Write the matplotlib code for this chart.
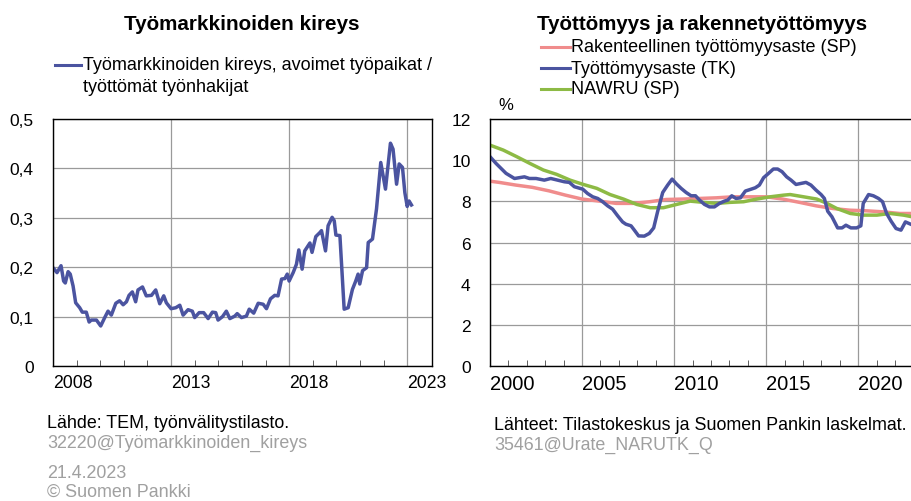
import matplotlib.pyplot as plt

plt.rcParams['font.family'] = ['Liberation Sans', 'DejaVu Sans']

# --- Työmarkkinoiden kireys (monthly) ---
kireys_t = [2008.00, 2008.17, 2008.34, 2008.45, 2008.52, 2008.64, 2008.73, 2008.85, 2008.96, 2009.13,
            2009.24, 2009.41, 2009.53, 2009.62, 2009.84, 2010.02, 2010.19, 2010.33, 2010.47, 2010.66,
            2010.82, 2010.97, 2011.11, 2011.22, 2011.36, 2011.50, 2011.60, 2011.79, 2011.95, 2012.17,
            2012.35, 2012.52, 2012.69, 2012.80, 2013.00, 2013.20, 2013.37, 2013.51, 2013.72, 2013.90,
            2014.00, 2014.19, 2014.38, 2014.57, 2014.75, 2014.89, 2014.99, 2015.18, 2015.34, 2015.49,
            2015.70, 2015.80, 2015.98, 2016.19, 2016.31, 2016.50, 2016.69, 2016.90, 2017.04, 2017.21,
            2017.39, 2017.53, 2017.68, 2017.82, 2017.92, 2018.00, 2018.17, 2018.31, 2018.41, 2018.55,
            2018.66, 2018.88, 2018.97, 2019.13, 2019.30, 2019.37, 2019.54, 2019.65, 2019.82, 2019.91,
            2019.98, 2020.15, 2020.33, 2020.50, 2020.68, 2020.82, 2020.92, 2020.99, 2021.11, 2021.28,
            2021.35, 2021.53, 2021.70, 2021.88, 2022.08, 2022.29, 2022.40, 2022.55, 2022.66, 2022.80,
            2022.90, 2023.00, 2023.08, 2023.18]
kireys = [0.199, 0.189, 0.203, 0.172, 0.168, 0.191, 0.186, 0.162, 0.128, 0.118,
          0.109, 0.109, 0.089, 0.093, 0.093, 0.081, 0.098, 0.111, 0.103, 0.127,
          0.132, 0.124, 0.130, 0.143, 0.150, 0.130, 0.154, 0.160, 0.142, 0.143,
          0.154, 0.126, 0.142, 0.128, 0.116, 0.118, 0.123, 0.103, 0.114, 0.111,
          0.098, 0.108, 0.108, 0.096, 0.109, 0.108, 0.093, 0.100, 0.111, 0.096,
          0.101, 0.106, 0.098, 0.101, 0.115, 0.107, 0.127, 0.125, 0.116, 0.136,
          0.143, 0.142, 0.176, 0.177, 0.186, 0.172, 0.189, 0.206, 0.235, 0.196,
          0.233, 0.249, 0.230, 0.262, 0.270, 0.274, 0.233, 0.284, 0.301, 0.294,
          0.265, 0.264, 0.115, 0.118, 0.155, 0.172, 0.186, 0.166, 0.193, 0.199,
          0.250, 0.257, 0.318, 0.412, 0.358, 0.451, 0.439, 0.368, 0.409, 0.402,
          0.351, 0.323, 0.334, 0.326]

# --- Työttömyysaste (TK) ---
tk_t = [2000.05, 2000.33, 2000.60, 2000.87, 2001.33, 2001.60, 2001.87, 2002.14, 2002.50, 2002.95,
        2003.30, 2003.67, 2004.04, 2004.31, 2004.58, 2005.04, 2005.30, 2005.58, 2005.85, 2006.12,
        2006.39, 2006.66, 2006.93, 2007.20, 2007.38, 2007.66, 2007.84, 2008.07, 2008.38, 2008.65,
        2008.89, 2009.10, 2009.38, 2009.65, 2009.89, 2010.10, 2010.38, 2010.65, 2010.92, 2011.16,
        2011.38, 2011.65, 2011.92, 2012.19, 2012.46, 2012.73, 2012.91, 2013.13, 2013.36, 2013.60,
        2013.87, 2014.18, 2014.41, 2014.63, 2014.86, 2015.13, 2015.39, 2015.62, 2015.86, 2016.11,
        2016.35, 2016.62, 2016.89, 2017.16, 2017.43, 2017.70, 2017.98, 2018.16, 2018.34, 2018.57,
        2018.88, 2019.12, 2019.33, 2019.60, 2019.91, 2020.14, 2020.27, 2020.56, 2020.82, 2021.10,
        2021.32, 2021.54, 2021.78, 2022.05, 2022.32, 2022.56, 2022.87]
tk = [10.12, 9.84, 9.60, 9.36, 9.11, 9.15, 9.19, 9.11, 9.11, 9.03,
      9.11, 9.03, 8.95, 8.92, 8.71, 8.59, 8.38, 8.22, 8.14, 7.98,
      7.78, 7.62, 7.30, 7.00, 6.89, 6.81, 6.60, 6.32, 6.31, 6.44,
      6.71, 7.49, 8.43, 8.79, 9.08, 8.87, 8.63, 8.43, 8.27, 8.27,
      8.06, 7.85, 7.73, 7.73, 7.90, 8.01, 8.06, 8.27, 8.14, 8.17,
      8.50, 8.59, 8.66, 8.79, 9.15, 9.36, 9.57, 9.57, 9.44, 9.19,
      9.03, 8.82, 8.87, 8.92, 8.79, 8.55, 8.33, 8.14, 7.52, 7.25,
      6.71, 6.71, 6.84, 6.71, 6.71, 6.81, 7.90, 8.33, 8.27, 8.14,
      7.98, 7.41, 7.04, 6.68, 6.60, 7.00, 6.88]

# --- Rakenteellinen työttömyysaste (SP) ---
rak_t = [2000.0, 2000.5, 2001.4, 2002.3, 2003.2, 2004.1, 2005.0, 2005.95, 2006.85, 2007.75,
         2008.66, 2009.56, 2010.47, 2011.38, 2012.28, 2013.19, 2014.09, 2015.0, 2015.9, 2016.81,
         2017.72, 2018.63, 2019.53, 2020.44, 2021.34, 2022.25, 2022.9]
rak = [8.98, 8.92, 8.79, 8.68, 8.51, 8.30, 8.11, 8.01, 7.90, 7.90,
       7.98, 8.09, 8.11, 8.14, 8.17, 8.22, 8.22, 8.22, 8.11, 7.95,
       7.78, 7.65, 7.57, 7.54, 7.49, 7.41, 7.41]

# --- NAWRU (SP) ---
nawru_t = [2000.0, 2000.72, 2001.45, 2002.17, 2002.9, 2003.62, 2004.35, 2005.07, 2005.8, 2006.52,
           2007.25, 2007.97, 2008.7, 2009.42, 2010.14, 2010.87, 2011.59, 2012.32, 2013.04, 2013.77,
           2014.49, 2015.22, 2015.94, 2016.3, 2017.03, 2017.75, 2018.3, 2018.84, 2019.57, 2020.29,
           2021.01, 2021.74, 2022.46, 2022.92]
nawru = [10.73, 10.49, 10.17, 9.84, 9.52, 9.31, 9.03, 8.82, 8.63, 8.33,
         8.11, 7.85, 7.69, 7.69, 7.85, 8.01, 7.95, 7.90, 7.95, 7.98,
         8.11, 8.22, 8.30, 8.33, 8.22, 8.11, 7.90, 7.65, 7.41, 7.33,
         7.33, 7.41, 7.33, 7.25]

left_xlabels = ['2008', '2013', '2018', '2023']
left_ylabels = ['0', '0,1', '0,2', '0,3', '0,4', '0,5']
right_xlabels = ['2000', '2005', '2010', '2015', '2020']
right_ylabels = ['0', '2', '4', '6', '8', '10', '12']

blue = '#4B54A0'
pink = '#F08C8C'
green = '#8DBA45'
gridc = '#9a9a9a'

W, H = 912, 502
fig = plt.figure(figsize=(W / 100, H / 100), dpi=100)


def px_axes(x0, y0, x1, y1):
    return fig.add_axes([x0 / W, 1 - y1 / H, (x1 - x0) / W, (y1 - y0) / H])


def style(ax, major, minor, xlabels, yticks, ylabels, xsize):
    ax.set_xticks(major)
    ax.set_xticklabels(xlabels, ha='left', fontsize=xsize)
    ax.set_xticks(minor, minor=True)
    ax.set_yticks(yticks)
    ax.set_yticklabels(ylabels, fontsize=12.5)
    ax.tick_params(axis='x', which='major', length=0, pad=6)
    ax.tick_params(axis='x', which='minor', direction='in', length=4, color='#444444')
    ax.tick_params(axis='y', length=0, pad=14)
    ax.grid(True, which='major', color=gridc, lw=0.9)
    ax.set_axisbelow(True)
    for s in ax.spines.values():
        s.set_linewidth(1.0)
        s.set_color('black')


# left panel
ax1 = px_axes(53, 120, 432, 367)
ax1.plot(kireys_t, kireys, color=blue, lw=2.5)
ax1.set_xlim(2008, 2024.05)
ax1.set_ylim(0, 0.5)
style(ax1, [2008, 2013, 2018, 2023], list(range(2009, 2024)), left_xlabels,
      [0, 0.1, 0.2, 0.3, 0.4, 0.5], left_ylabels, 12.7)

# right panel
ax2 = px_axes(490, 120, 913.5, 367)
ax2.plot(rak_t, rak, color=pink, lw=2.5)
ax2.plot(nawru_t, nawru, color=green, lw=2.5)
ax2.plot(tk_t, tk, color=blue, lw=2.5)
ax2.set_xlim(2000, 2023)
ax2.set_ylim(0, 12)
style(ax2, [2000, 2005, 2010, 2015, 2020], list(range(2001, 2023)), right_xlabels,
      [0, 2, 4, 6, 8, 10, 12], right_ylabels, 14.5)
ax2.spines['right'].set_visible(False)


def txt(x, y, s, **kw):
    fig.text(x / W, 1 - y / H, s, va='center', **kw)


def legline(x0, x1, y, c):
    fig.add_artist(plt.Line2D([x0 / W, x1 / W], [1 - y / H, 1 - y / H], color=c, lw=2.2))


# titles
txt(242, 24, 'Työmarkkinoiden kireys', ha='center', fontsize=14.9, fontweight='bold')
txt(702, 24, 'Työttömyys ja rakennetyöttömyys', ha='center', fontsize=14.8, fontweight='bold')

# legends
legline(55, 81, 66, blue)
txt(83, 66, 'Työmarkkinoiden kireys, avoimet työpaikat /', ha='left', fontsize=13)
txt(83, 87, 'työttömät työnhakijat', ha='left', fontsize=13)

legline(541, 570, 48, pink)
txt(571, 48, 'Rakenteellinen työttömyysaste (SP)', ha='left', fontsize=13)
legline(541, 570, 69, blue)
txt(571, 69, 'Työttömyysaste (TK)', ha='left', fontsize=13)
legline(541, 570, 90, green)
txt(571, 90, 'NAWRU (SP)', ha='left', fontsize=13)

txt(498, 106, '%', ha='left', fontsize=12)

# footers
txt(47, 423, 'Lähde: TEM, työnvälitystilasto.', ha='left', fontsize=12.9)
txt(47, 443, '32220@Työmarkkinoiden_kireys', ha='left', fontsize=12.9, color='#a0a0a0')
txt(47, 474, '21.4.2023', ha='left', fontsize=12.9, color='#a0a0a0')
txt(47, 492, '© Suomen Pankki', ha='left', fontsize=12.9, color='#a0a0a0')
txt(494, 425, 'Lähteet: Tilastokeskus ja Suomen Pankin laskelmat.', ha='left', fontsize=12.9)
txt(494, 445, '35461@Urate_NARUTK_Q', ha='left', fontsize=12.9, color='#a0a0a0')

fig.savefig('out.png', dpi=100)
